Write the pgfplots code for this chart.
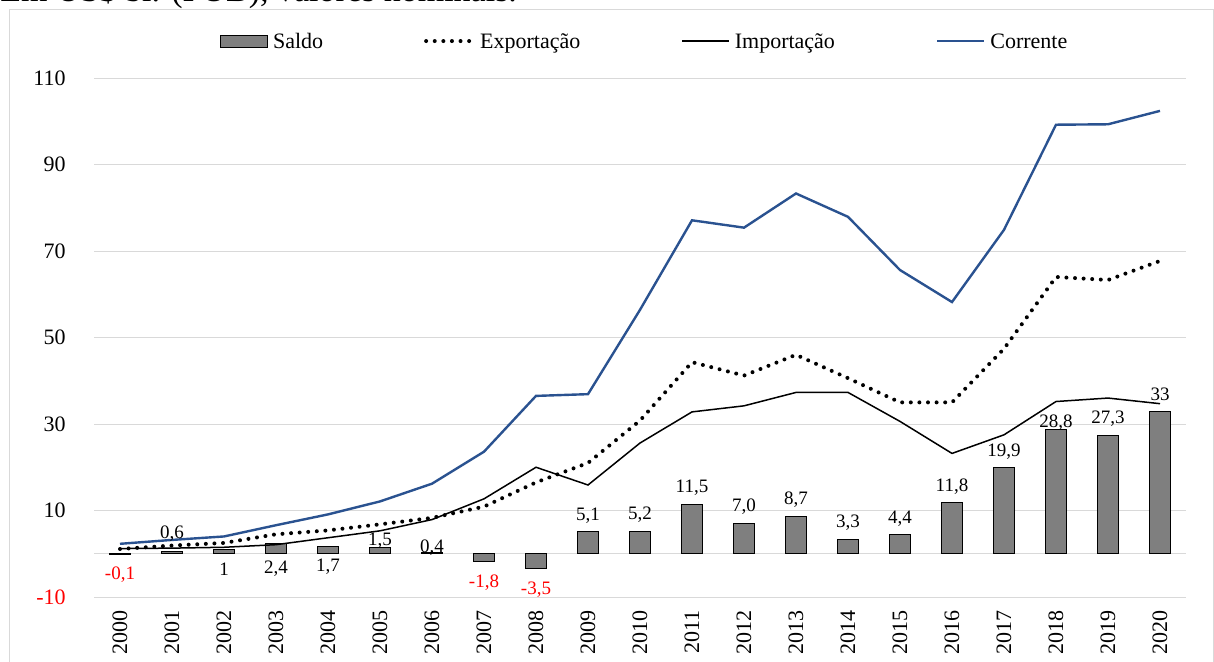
\documentclass[border=0pt]{standalone}
\usepackage{fontspec}
\setmainfont{Liberation Serif}
\usepackage{pgfplots}
\pgfplotsset{compat=1.18}
\usepackage{pgfplotstable}
\definecolor{gridgray}{HTML}{D9D9D9}
\definecolor{corblue}{HTML}{2A5290}
\definecolor{bargray}{HTML}{7F7F7F}

\pgfplotstableread{
x saldo exp imp cor
0  -0.1  1.1  1.2  2.3
1   0.6  1.9  1.3  3.2
2   1.0  2.5  1.5  4.0
3   2.4  4.5  2.1  6.6
4   1.7  5.4  3.7  9.1
5   1.5  6.8  5.3 12.1
6   0.4  8.3  7.9 16.2
7  -1.8 10.9 12.7 23.6
8  -3.5 16.5 20.0 36.5
9   5.1 21.0 15.9 36.9
10  5.2 30.8 25.6 56.4
11 11.5 44.3 32.8 77.1
12  7.0 41.2 34.2 75.4
13  8.7 46.0 37.3 83.3
14  3.3 40.6 37.3 77.9
15  4.4 35.0 30.6 65.6
16 11.8 35.0 23.2 58.2
17 19.9 47.4 27.5 74.9
18 28.8 64.0 35.2 99.2
19 27.3 63.3 36.0 99.3
20 33.0 67.7 34.7 102.4
}\data

\pgfplotstableread{
x ly lab
1  4.6 0,6
2 -3.5 1
3 -3.5 2,4
4 -3.0 1,7
5  3.1 1,5
6  1.5 0,4
9  8.9 5,1
10 9.0 5,2
11 15.3 11,5
12 10.8 7,0
13 12.5 8,7
14 7.1 3,3
15 8.2 4,4
16 15.6 11,8
17 23.7 19,9
18 30.4 28,8
19 31.2 27,3
20 36.8 33
}\lblk

\pgfplotstableread{
x ly lab
0 -4.8 -0,1
7 -6.6 -1,8
8 -8.3 -3,5
}\lblr

\begin{document}
\begin{tikzpicture}
\useasboundingbox (0,0) rectangle (607pt,330.5pt);
\draw[gridgray, line width=0.5pt] (4.5pt,-3pt) rectangle (606.8pt,326pt);
\node[anchor=base west, inner sep=0pt, font=\fontsize{17}{20}\selectfont] at (0pt,329.6pt) {Em US\$ bi. (FOB), valores nominais.};
\begin{axis}[
  at={(47pt,32pt)}, anchor=south west,
  scale only axis, width=546pt, height=259.5pt,
  xmin=-0.5, xmax=20.5, ymin=-10, ymax=110,
  axis line style={draw=none},
  tick style={draw=none},
  ytick={-10,10,30,50,70,90,110},
  yticklabels={{\textcolor{red}{-10}},10,30,50,70,90,110},
  xtick={0,1,2,3,4,5,6,7,8,9,10,11,12,13,14,15,16,17,18,19,20},
  xticklabels={2000,2001,2002,2003,2004,2005,2006,2007,2008,2009,2010,2011,2012,2013,2014,2015,2016,2017,2018,2019,2020},
  ymajorgrids, major grid style={gridgray, line width=0.5pt},
  extra y ticks={0}, extra y tick labels={},
  extra y tick style={ymajorgrids, major grid style={gridgray, line width=0.6pt}},
  ticklabel style={font=\fontsize{11}{13}\selectfont},
  yticklabel style={inner sep=0pt, anchor=east}, yticklabel shift=14pt,
  xticklabel style={rotate=90, anchor=east, inner sep=0pt}, xticklabel shift=6.5pt,
  clip=false,
  legend columns=4,
  legend image code/.code={\draw[#1] (0pt,0pt) -- (23.5pt,0pt);},
  legend style={at={(0.1154,1.0712)}, anchor=west, draw=none, fill=none,
    inner sep=0pt, outer sep=0pt,
    font=\fontsize{11}{13}\selectfont,
    cells={anchor=west},
    nodes={inner sep=0pt, text depth=0pt},
    /tikz/every odd column/.append style={column sep=2.5pt},
    /tikz/every even column/.append style={column sep=50.5pt}},
]
\addplot[ybar, bar width=10.5pt, fill=bargray, draw=black, line width=0.5pt,
  legend image code/.code={\draw[fill=bargray, draw=black, line width=0.5pt] (0pt,-3pt) rectangle (23.5pt,3pt);}]
  table[x=x, y=saldo] {\data};
\addlegendentry{Saldo}
\addplot[black, line width=2pt, line cap=round, dash pattern=on 0pt off 4.3pt, mark=none]
  table[x=x, y=exp] {\data};
\addlegendentry{Exportação}
\addplot[black, line width=0.75pt, mark=none]
  table[x=x, y=imp] {\data};
\addlegendentry{Importação}
\addplot[corblue, line width=1.2pt, mark=none]
  table[x=x, y=cor] {\data};
\addlegendentry{Corrente}
\addplot[draw=none, mark=none, forget plot, nodes near coords, point meta=explicit symbolic,
  every node near coord/.append style={anchor=center, inner sep=0pt, font=\fontsize{9.5}{11}\selectfont, text=black}]
  table[x=x, y=ly, meta=lab] {\lblk};
\addplot[draw=none, mark=none, forget plot, nodes near coords, point meta=explicit symbolic,
  every node near coord/.append style={anchor=center, inner sep=0pt, font=\fontsize{9.5}{11}\selectfont, text=red}]
  table[x=x, y=ly, meta=lab] {\lblr};
\end{axis}
\end{tikzpicture}
\end{document}
